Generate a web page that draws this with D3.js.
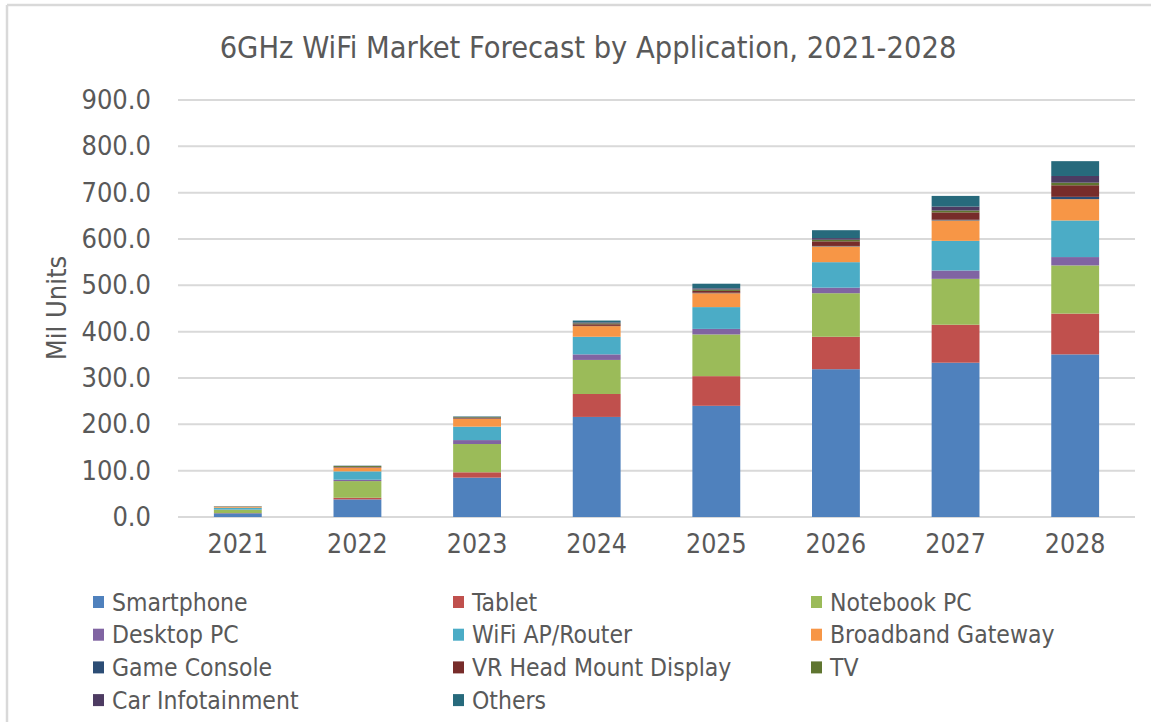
<!DOCTYPE html>
<html lang="en">
<head>
    <title>6GHz WiFi Market Forecast</title>
    <meta http-equiv="Content-Type" content="text/html; charset=UTF-8"/>
    <script type="text/javascript" src="https://d3js.org/d3.v7.min.js"></script>
    <style>
        body { margin: 0; background: #fff; }
        text { font-family: "DejaVu Sans Condensed", "DejaVu Sans", sans-serif; font-stretch: condensed; fill: #595959; }
    </style>
</head>
<body>
<div id="chart"></div>
<script type="text/javascript">

    var years = ["2021", "2022", "2023", "2024", "2025", "2026", "2027", "2028"];
    var yTicks = [0, 100, 200, 300, 400, 500, 600, 700, 800, 900];

    var smartphone  = [8,   38,  85,   216,  240, 319,  333,  351];
    var tablet      = [0.5, 3.5, 11.5, 49.5, 64,  70,   82,   88];
    var notebookPc  = [7,   36,  61,   73.5, 90,  94,   99,   104];
    var desktopPc   = [0.5, 3,   8.5,  12,   12,  12,   18,   18];
    var wifiRouter  = [4,   18,  29,   38,   47,  55,   64,   79];
    var broadband   = [2,   8,   17,   23,   30,  34,   44,   46];
    var gameConsole = [0.2, 0.5, 0.5,  0.5,  1,   1,    1.5,  5];
    var vrHeadMount = [0.2, 1,   1.5,  3.5,  4,   10,   16,   25];
    var tv          = [0.5, 2,   1.5,  2,    3,   3.5,  4,    5.6];
    var carInfo     = [0.1, 0.3, 0.5,  2,    2.5, 3.5,  8.5,  14.4];
    var others      = [0.3, 0.5, 1,    4,    10,  17,   23,   32];

    var seriesNames = ["Smartphone", "Tablet", "Notebook PC", "Desktop PC", "WiFi AP/Router",
        "Broadband Gateway", "Game Console", "VR Head Mount Display", "TV", "Car Infotainment", "Others"];
    var seriesValues = [smartphone, tablet, notebookPc, desktopPc, wifiRouter, broadband,
        gameConsole, vrHeadMount, tv, carInfo, others];
    var colors = ["#4f81bd", "#c0504d", "#9bbb59", "#8064a2", "#4bacc6", "#f79646",
        "#2c4d75", "#772c2a", "#5f7530", "#4d3b62", "#276a7c"];

    var width = 1151, height = 722;

    // one row per year for d3.stack
    var rows = years.map(function (y, i) {
        var r = {year: y};
        seriesNames.forEach(function (n, k) { r[n] = seriesValues[k][i]; });
        return r;
    });
    var stacked = d3.stack().keys(seriesNames)(rows);

    var svg = d3.select("#chart").append("svg")
        .attr("width", width)
        .attr("height", height);

    svg.append("rect").attr("width", width).attr("height", height).attr("fill", "#fff");

    // frame edges of the screenshot
    svg.append("line").attr("x1", 7).attr("x2", width).attr("y1", 5).attr("y2", 5)
        .attr("stroke", "#d9d9d9").attr("stroke-width", 2.5);
    svg.append("line").attr("x1", 7).attr("x2", 7).attr("y1", 5).attr("y2", height)
        .attr("stroke", "#d9d9d9").attr("stroke-width", 2.5);

    var x = d3.scaleBand()
        .domain(years)
        .range([178, 1135])
        .paddingInner(0.6)
        .paddingOuter(0.3);

    var y = d3.scaleLinear()
        .domain([0, 900])
        .range([517, 100]);

    // gridlines
    svg.append("g").selectAll("line")
        .data(yTicks)
        .enter().append("line")
        .attr("x1", 178).attr("x2", 1135)
        .attr("y1", function (d) { return y(d); })
        .attr("y2", function (d) { return y(d); })
        .attr("stroke", "#d9d9d9")
        .attr("stroke-width", 2);

    // y axis labels
    var yAxis = d3.axisLeft(y).tickValues(yTicks).tickSize(0).tickPadding(0)
        .tickFormat(function (d) { return d3.format(".1f")(d); });
    var yg = svg.append("g").attr("transform", "translate(151,0)").call(yAxis);
    yg.select(".domain").remove();
    yg.selectAll("text").attr("font-size", 27).attr("font-family", null).attr("fill", "#595959");

    // x axis labels
    var xAxis = d3.axisBottom(x).tickSize(0).tickPadding(0);
    var xg = svg.append("g").attr("transform", "translate(0,534)").call(xAxis);
    xg.select(".domain").remove();
    xg.selectAll("text").attr("font-size", 26.5).attr("font-family", null).attr("fill", "#595959");

    // bars
    svg.append("g").selectAll("g")
        .data(stacked)
        .enter().append("g")
        .attr("fill", function (d, i) { return colors[i]; })
        .selectAll("rect")
        .data(function (d) { return d; })
        .enter().append("rect")
        .attr("x", function (d) { return x(d.data.year); })
        .attr("y", function (d) { return y(d[1]); })
        .attr("width", x.bandwidth())
        .attr("height", function (d) { return y(d[0]) - y(d[1]); });

    // title
    svg.append("text")
        .attr("x", 588).attr("y", 58)
        .attr("text-anchor", "middle")
        .attr("font-size", 30.5)
        .text("6GHz WiFi Market Forecast by Application, 2021-2028");

    // y axis title
    svg.append("text")
        .attr("transform", "translate(66,308) rotate(-90)")
        .attr("text-anchor", "middle")
        .attr("font-size", 27)
        .text("Mil Units");

    // legend, three columns
    var colX = [93, 453, 811];
    var legend = svg.append("g").selectAll("g")
        .data(seriesNames)
        .enter().append("g")
        .attr("transform", function (d, i) {
            return "translate(" + colX[i % 3] + "," + (602 + Math.floor(i / 3) * 32.7) + ")";
        });
    legend.append("rect")
        .attr("x", 0).attr("y", -6)
        .attr("width", 11).attr("height", 12)
        .attr("fill", function (d, i) { return colors[i]; });
    legend.append("text")
        .attr("x", 19).attr("y", 8.5)
        .attr("font-size", 24.5)
        .text(function (d) { return d; });

</script>
</body>
</html>
